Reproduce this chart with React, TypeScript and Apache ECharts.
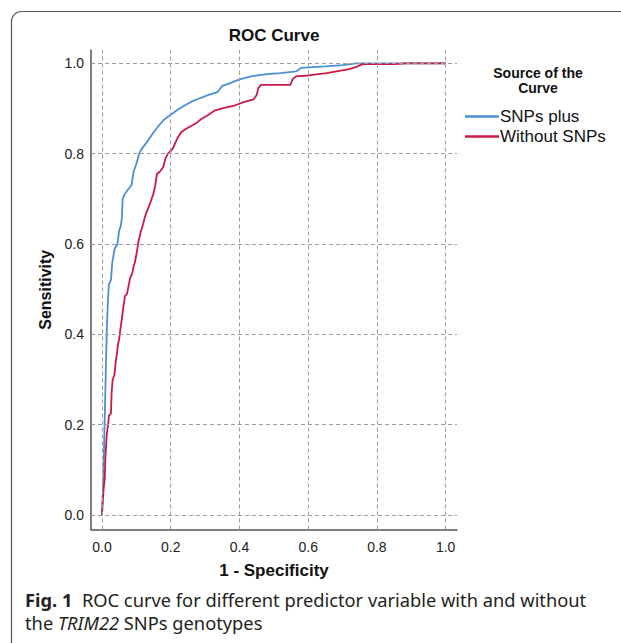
import React, { useEffect, useRef } from "react";
import * as echarts from "echarts";

const chartTitle = "ROC Curve";
const xTitle = "1 - Specificity";
const yTitle = "Sensitivity";
const legendTitle = "Source of the\nCurve";
const seriesNames = ["SNPs plus", "Without SNPs"];
const tickValues = [0, 0.2, 0.4, 0.6, 0.8, 1.0];

// [1 - specificity, sensitivity]
const snpsPlus: [number, number][] = [
  [0, 0], [0.003, 0.06], [0.006, 0.15], [0.009, 0.25], [0.012, 0.35], [0.014, 0.41],
  [0.017, 0.47], [0.02, 0.51], [0.026, 0.52], [0.03, 0.56], [0.037, 0.59], [0.045, 0.6],
  [0.05, 0.63], [0.055, 0.64], [0.058, 0.66], [0.06, 0.7], [0.066, 0.71], [0.075, 0.72],
  [0.086, 0.73], [0.092, 0.76], [0.101, 0.78], [0.108, 0.8], [0.115, 0.81], [0.125, 0.82],
  [0.135, 0.83], [0.148, 0.845], [0.163, 0.86], [0.18, 0.875], [0.202, 0.887], [0.22, 0.897],
  [0.239, 0.906], [0.26, 0.915], [0.279, 0.921], [0.31, 0.93], [0.336, 0.936], [0.35, 0.95],
  [0.365, 0.954], [0.385, 0.96], [0.403, 0.965], [0.44, 0.972], [0.48, 0.976], [0.519, 0.978],
  [0.565, 0.982], [0.58, 0.99], [0.65, 0.993], [0.7, 0.996], [0.74, 1.0], [1.0, 1.0],
];

const withoutSnps: [number, number][] = [
  [0, 0], [0.002, 0.03], [0.005, 0.06], [0.008, 0.08], [0.01, 0.13], [0.014, 0.18],
  [0.018, 0.2], [0.02, 0.22], [0.026, 0.225], [0.028, 0.27], [0.031, 0.3], [0.036, 0.31],
  [0.04, 0.34], [0.043, 0.355], [0.047, 0.38], [0.05, 0.39], [0.055, 0.42], [0.058, 0.435],
  [0.062, 0.46], [0.067, 0.485], [0.073, 0.49], [0.078, 0.51], [0.082, 0.525], [0.088, 0.535],
  [0.092, 0.55], [0.096, 0.56], [0.102, 0.585], [0.106, 0.605], [0.112, 0.625], [0.118, 0.64],
  [0.125, 0.66], [0.132, 0.675], [0.14, 0.69], [0.149, 0.71], [0.155, 0.73], [0.16, 0.755],
  [0.168, 0.76], [0.178, 0.77], [0.185, 0.79], [0.192, 0.8], [0.205, 0.81], [0.211, 0.82],
  [0.22, 0.835], [0.231, 0.848], [0.245, 0.855], [0.259, 0.861], [0.275, 0.868], [0.288, 0.876],
  [0.31, 0.886], [0.327, 0.895], [0.35, 0.9], [0.384, 0.906], [0.412, 0.914], [0.441, 0.92],
  [0.45, 0.93], [0.455, 0.945], [0.462, 0.952], [0.52, 0.952], [0.548, 0.952], [0.555, 0.965],
  [0.565, 0.971], [0.6, 0.973], [0.654, 0.978], [0.69, 0.983], [0.72, 0.987], [0.74, 0.992],
  [0.758, 0.998], [0.85, 0.998], [0.885, 1.0], [1.0, 1.0],
];

const BLUE = "#4b8fdb";
const RED = "#cc1846";
const FONT = '"Liberation Sans", Arial, sans-serif';
const CAP_FONT = '"Noto Sans", sans-serif';

export default function App() {
  const ref = useRef<HTMLDivElement>(null);
  useEffect(() => {
    const chart = echarts.init(ref.current!, null, { renderer: "svg" });
    const grid = { type: [4, 3] as any, color: "#9c9c9c", width: 1 };
    chart.setOption({
      animation: false,
      backgroundColor: "#fff",
      grid: { left: 91, right: 164, top: 50, bottom: 113.5, containLabel: false, outerBoundsMode: "none" },
      xAxis: {
        type: "value",
        min: -0.032,
        max: 1.033,
        name: xTitle,
        nameLocation: "middle",
        nameGap: 32,
        nameTextStyle: { fontFamily: FONT, fontWeight: "bold", fontSize: 17, color: "#111" },
        axisLine: { show: true, onZero: false, lineStyle: { color: "#555", width: 1.5 } },
        axisTick: { show: false },
        splitLine: { show: false },
        axisLabel: {
          customValues: tickValues,
          formatter: (v: number) => v.toFixed(1),
          fontFamily: FONT,
          fontSize: 14,
          color: "#222",
          margin: 10,
        },
      },
      yAxis: {
        type: "value",
        min: -0.032,
        max: 1.0294,
        name: yTitle,
        nameLocation: "middle",
        nameGap: 38,
        nameTextStyle: { fontFamily: FONT, fontWeight: "bold", fontSize: 16, color: "#111" },
        axisLine: { show: true, onZero: false, lineStyle: { color: "#555", width: 1.5 } },
        axisTick: { show: false },
        splitLine: { show: false },
        axisLabel: {
          customValues: tickValues,
          formatter: (v: number) => v.toFixed(1),
          fontFamily: FONT,
          fontSize: 14,
          color: "#222",
          margin: 7,
        },
      },
      legend: {
        data: seriesNames,
        orient: "vertical",
        left: 465,
        top: 108,
        icon: "rect",
        itemWidth: 34,
        itemHeight: 2.5,
        itemGap: 3,
        padding: 0,
        textStyle: { fontFamily: FONT, fontSize: 17, color: "#111", padding: [0, 0, 0, -4] },
      },
      graphic: [
        {
          type: "rect",
          shape: { x: 11.5, y: 11.5, width: 700, height: 700, r: 10 },
          style: { fill: "none", stroke: "#555", lineWidth: 1.2 },
          silent: true,
        },
        {
          type: "text",
          x: 274,
          y: 35,
          style: { text: chartTitle, align: "center", verticalAlign: "middle", fontFamily: FONT, fontWeight: "bold", fontSize: 17, fill: "#111" },
        },
        {
          type: "text",
          x: 538,
          y: 80,
          style: { text: legendTitle, align: "center", verticalAlign: "middle", fontFamily: FONT, fontWeight: "bold", fontSize: 14, lineHeight: 15, fill: "#111" },
        },
        {
          type: "text",
          x: 25,
          y: 599,
          style: {
            text: "{b|Fig. 1}  ROC curve for different predictor variable with and without",
            verticalAlign: "middle",
            fontFamily: CAP_FONT,
            fontSize: 18.3,
            fill: "#231f20",
            rich: { b: { fontFamily: CAP_FONT, fontSize: 18.3, fontWeight: "bold", fill: "#231f20" } },
          },
        },
        {
          type: "text",
          x: 25,
          y: 622,
          style: {
            text: "the {i|TRIM22} SNPs genotypes",
            verticalAlign: "middle",
            fontFamily: CAP_FONT,
            fontSize: 18.3,
            fill: "#231f20",
            rich: { i: { fontFamily: CAP_FONT, fontSize: 18.3, fontStyle: "italic", fill: "#231f20" } },
          },
        },
      ],
      series: [
        {
          type: "line",
          name: "grid",
          data: [],
          z: 1,
          silent: true,
          markLine: {
            silent: true,
            symbol: "none",
            label: { show: false },
            lineStyle: grid,
            emphasis: { disabled: true },
            data: [
              ...tickValues.map((v) => ({ xAxis: v })),
              ...tickValues.map((v) => ({ yAxis: v })),
            ],
          },
        },
        {
          type: "line",
          name: seriesNames[0],
          data: snpsPlus,
          symbol: "none",
          z: 3,
          color: BLUE,
          lineStyle: { color: BLUE, width: 1.8 },
        },
        {
          type: "line",
          name: seriesNames[1],
          data: withoutSnps,
          symbol: "none",
          z: 4,
          color: RED,
          lineStyle: { color: RED, width: 1.8 },
        },
      ],
    });
    return () => chart.dispose();
  }, []);
  return (
    <div
      ref={ref}
      style={{ position: "fixed", left: 0, top: 0, width: 621, height: 643, background: "#fff" }}
    />
  );
}
